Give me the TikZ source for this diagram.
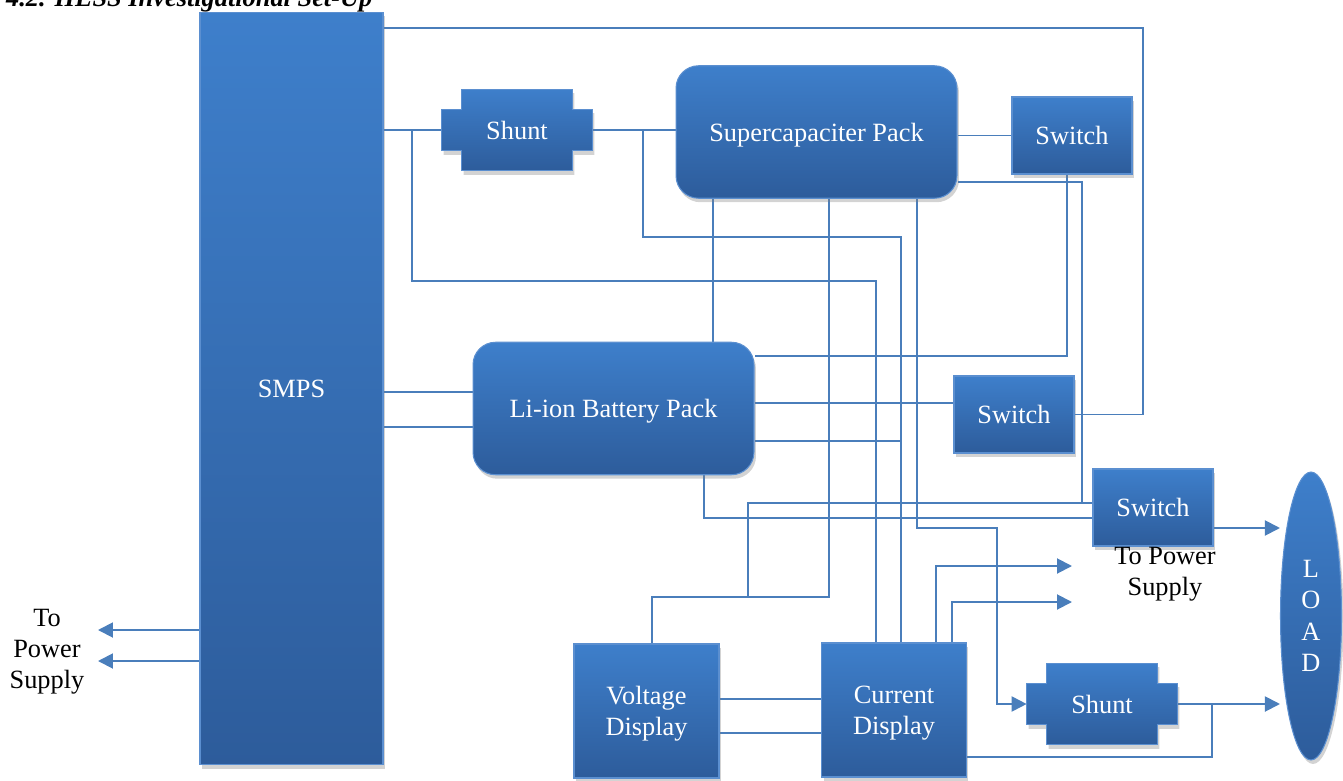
\documentclass[tikz,border=0pt]{standalone}
\usepackage{fontspec}
\setmainfont{Liberation Serif}
\usetikzlibrary{positioning, arrows.meta, shapes.geometric, shadows, backgrounds}
\pgfdeclarelayer{wires}
\pgfsetlayers{wires,background,main}
\definecolor{boxtop}{HTML}{3E7FCB}
\definecolor{boxbot}{HTML}{2D5C9B}
\definecolor{boxedge}{HTML}{5B8FD0}
\definecolor{wirecol}{HTML}{4A7EBB}
\newcommand{\shuntbody}[1]{%
  \begin{scope}[on background layer]
    \path[boxfill]
      ([xshift=0.4cm]#1.north west) -- ([xshift=-0.4cm]#1.north east)
      -- ([xshift=-0.4cm,yshift=-0.4cm]#1.north east) -- ([yshift=-0.4cm]#1.north east)
      -- ([yshift=0.4cm]#1.south east) -- ([xshift=-0.4cm,yshift=0.4cm]#1.south east)
      -- ([xshift=-0.4cm]#1.south east) -- ([xshift=0.4cm]#1.south west)
      -- ([xshift=0.4cm,yshift=0.4cm]#1.south west) -- ([yshift=0.4cm]#1.south west)
      -- ([yshift=-0.4cm]#1.north west) -- ([xshift=0.4cm,yshift=-0.4cm]#1.north west) -- cycle;
  \end{scope}%
}

\begin{document}
\begin{tikzpicture}[x=0.02cm, y=-0.02cm,
  boxfill/.style={draw=boxedge, line width=0.6pt, top color=boxtop, bottom color=boxbot,
    drop shadow={shadow xshift=0.04cm, shadow yshift=-0.08cm, opacity=0.35}},
  blk/.style={rectangle, boxfill, text=white, align=center, text depth=0pt, font=\fontsize{15}{17.8}\selectfont},
  pack/.style={blk, rounded corners=0.45cm, minimum width=5.62cm, minimum height=2.65cm},
  sw/.style={blk, minimum width=2.4cm, minimum height=1.54cm},
  disp/.style={blk, minimum width=2.9cm, minimum height=2.68cm},
  shunt/.style={rectangle, text=white, font=\fontsize{15}{17.8}\selectfont, minimum width=3cm, minimum height=1.62cm, inner sep=0pt},
  wire/.style={wirecol, line width=1.1pt},
  feed/.style={wire, -{Triangle[length=0.3cm, width=0.3cm]}},
  note/.style={align=center, font=\fontsize{15}{17.6}\selectfont}
]
\useasboundingbox (0,0) rectangle (1343,781);

% ===== Title =====
\node[anchor=base west, font=\bfseries\itshape\fontsize{15}{18}\selectfont] (title) at (0,7) {4.2. HESS Investigational Set-Up};

% ===== Blocks =====
\node[blk, minimum width=3.66cm, minimum height=15.06cm] (smps) at (291.5,388.5) {SMPS};
\node[shunt] (shuntA) at (517,130) {Shunt};
\node[pack] (supercap) at (816.5,132) {Supercapaciter Pack};
\node[sw] (swA) at (1072,135.5) {Switch};
\node[pack] (battery) at (613.5,408.5) {Li-ion Battery Pack};
\node[sw] (swB) at (1014,414.5) {Switch};
\node[sw] (swC) at (1153,507.5) {Switch};
\node[blk, ellipse, minimum width=1.22cm, minimum height=5.76cm, inner sep=0pt, font=\fontsize{15}{17.8}\selectfont] (load) at (1311,616) {L\\O\\A\\D};
\node[disp] (voltdisp) at (646.5,711) {Voltage\\Display};
\node[disp] (curdisp) at (894,710) {Current\\Display};
\node[shunt] (shuntB) at (1102,704) {Shunt};
\foreach \n in {shuntA,shuntB}{\shuntbody{\n}}

% ===== Labels =====
\node[note] (psLeft) at (47,652) {To\\Power\\Supply};
\node[note] (psRight) at (1165,574) {To Power\\Supply};

% ===== Bends and ports =====
\coordinate (topR) at (1143,28);
\coordinate (jA) at (412,130);
\coordinate (busA) at (876,281);
\coordinate (jB) at (643,130);
\coordinate (busB) at (901,237);
\coordinate (rA) at (1082,182);
\coordinate (rB) at (748,503);
\coordinate (rC) at (829,597);
\coordinate (rD) at (652,597);
\coordinate (rE) at (1067,356);
\coordinate (rG) at (917,528);
\coordinate (rH) at (997,528);
\coordinate (rI) at (1212,704);
\coordinate (psA) at (1072,566);
\coordinate (psB) at (1072,602);
\coordinate (tipA) at (98,630);
\coordinate (tipB) at (98,661);
\path ([yshift=0.33cm]battery.west) coordinate (bIn1)
      ([yshift=-0.37cm]battery.west) coordinate (bIn2)
      ([yshift=0.23cm]swB.west) coordinate (bOut1)
      ([yshift=-0.65cm]battery.east) coordinate (bOut2)
      ([xshift=1.81cm]battery.south) coordinate (bOut3)
      ([xshift=1.99cm]battery.north) coordinate (bTop)
      ([yshift=-0.21cm]swC.west) coordinate (swCin)
      ([yshift=-0.41cm]swC.east) coordinate (swCout)
      ([yshift=-0.94cm]curdisp.east) coordinate (cdOut)
      ([xshift=0.84cm]curdisp.north) coordinate (cdUp1)
      ([xshift=1.16cm]curdisp.north) coordinate (cdUp2)
      ([yshift=0.24cm]voltdisp.east) coordinate (vdA)
      ([yshift=-0.44cm]voltdisp.east) coordinate (vdB);

% ===== Wiring =====
\begin{pgfonlayer}{wires}
\draw[wire] (smps.east |- topR) -- (topR) |- (swB.east);
\draw[wire] (smps.east |- shuntA.west) -- (shuntA.west);
\draw[wire] (jA) |- (busA) -- (busA |- curdisp.north);
\draw[wire] (shuntA.east) -- (shuntA.east -| supercap.west);
\draw[wire] (jB) |- (busB) -- (busB |- curdisp.north);
\draw[wire] (supercap.east |- swA.west) -- (swA.west);
\draw[wire] (supercap.east |- rA) -- (rA) |- (rB) -- (rB |- rC);
\draw[wire] (rA |- rB) -- (rB -| swC.west);
\draw[wire] (supercap.south -| rC) -- (rC) -- (rD) -- (rD |- voltdisp.north);
\draw[wire] (swA.south -| rE) -- (rE) -- (rE -| battery.east);
\draw[wire] (bTop) -- (bTop |- supercap.south);
\draw[feed] (supercap.south -| rG) -- (rG) -- (rH) |- (shuntB.west);
\draw[wire] (smps.east |- bIn1) -- (bIn1);
\draw[wire] (smps.east |- bIn2) -- (bIn2);
\draw[wire] (battery.east |- bOut1) -- (bOut1);
\draw[wire] (bOut2) -- (bOut2 -| busB);
\draw[wire] (bOut3) |- (swCin);
\draw[feed] (swCout) -- (swCout -| load.west);
\draw[feed] (shuntB.east) -- (shuntB.east -| load.west);
\draw[wire] (cdOut) -| (rI);
\draw[feed] (cdUp1) |- (psA);
\draw[feed] (cdUp2) |- (psB);
\draw[wire] (vdA) -- (vdA -| curdisp.west);
\draw[wire] (vdB) -- (vdB -| curdisp.west);
\draw[feed] (smps.west |- tipA) -- (tipA);
\draw[feed] (smps.west |- tipB) -- (tipB);
\end{pgfonlayer}

\end{tikzpicture}
\end{document}
